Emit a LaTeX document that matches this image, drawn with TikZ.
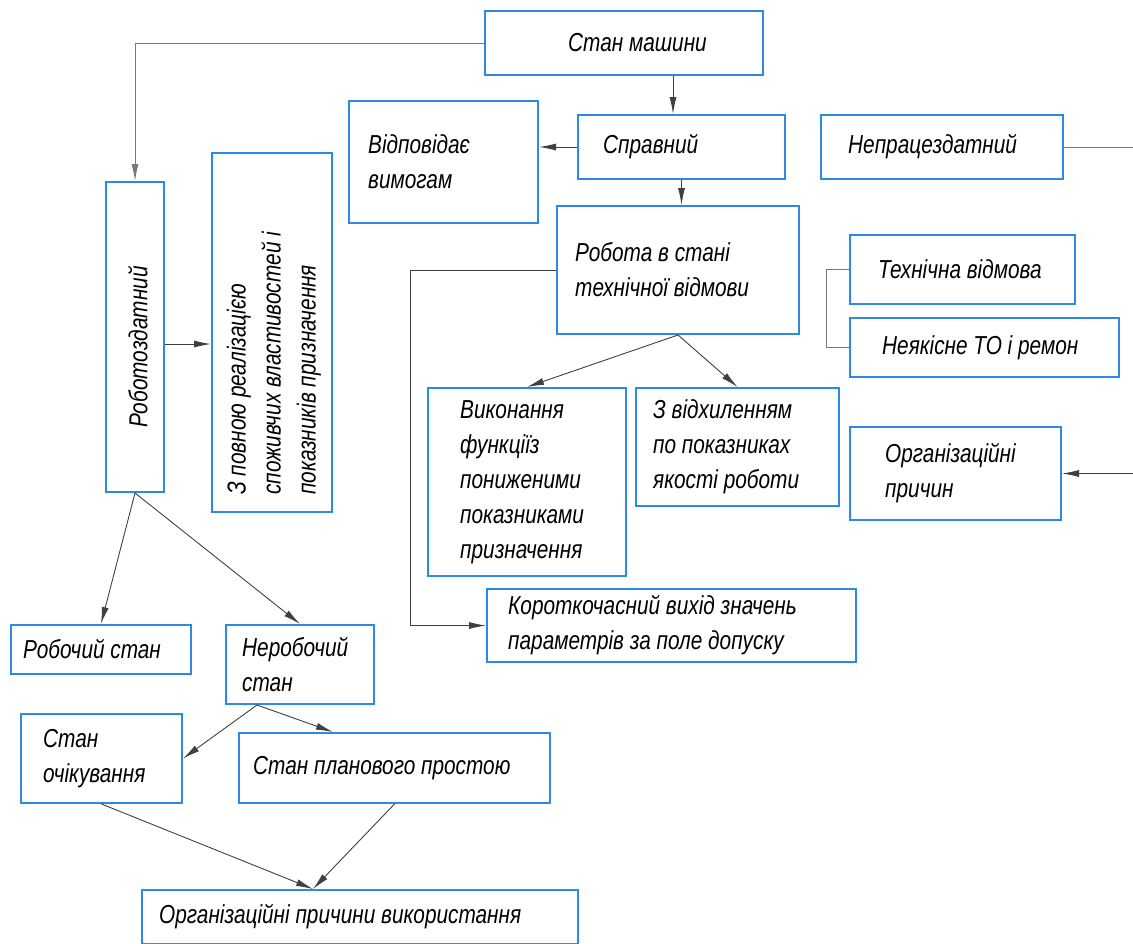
\documentclass[tikz,border=0pt]{standalone}
\usepackage{fontspec}
\setmainfont{Liberation Sans}[FakeStretch=0.8]
\usetikzlibrary{arrows.meta}
\definecolor{bxblue}{RGB}{44,138,226}
\definecolor{lngray}{RGB}{120,120,120}
\tikzset{
 box/.style={draw=bxblue, line width=2pt, inner sep=0pt},
 txt/.style={font=\fontsize{26}{35}\selectfont\itshape, text=black, align=left, inner sep=0pt},
 tip/.style={-{Latex[length=17pt,width=7pt]}},
 conn/.style={draw=black!75, line width=0.9pt, tip},
 gconn/.style={draw=lngray, line width=0.9pt},
}
\newcommand\mkbox[7]{%
 \node[box, minimum width={(#4-#2)*1pt}, minimum height={(#5-#3)*1pt}] (#1) at ({(#2+#4)/2},{(#3+#5)/2}) {};
 \node[txt, anchor=west] (#1-t) at ({#2+#6},{(#3+#5)/2}) {#7};
}
\begin{document}
\begin{tikzpicture}[x=1pt,y=-1pt]
\useasboundingbox (0,0) rectangle (1133,943);
\mkbox{m}{485}{11}{763}{75}{83}{Стан машини}
\mkbox{v}{349}{101}{538}{223}{19}{Відповідає\\вимогам}
\mkbox{s}{578}{115}{785}{179}{25}{Справний}
\mkbox{n}{821}{115}{1063}{179}{27}{Непрацездатний}
\mkbox{r}{557}{206}{799}{334}{18}{Робота в стані\\технічної відмови}
\mkbox{tv}{850}{235}{1075}{304}{28}{Технічна відмова}
\mkbox{nq}{850}{318}{1119}{377}{32}{Неякісне ТО і ремон}
\mkbox{vp}{428}{388}{626}{576}{32}{Виконання\\функціїз\\пониженими\\показниками\\призначення}
\mkbox{zv}{636}{388}{839}{506}{17}{З відхиленням\\по показниках\\якості роботи}
\mkbox{oc}{850}{427}{1061}{520}{35}{Організаційні\\причин}
\mkbox{k}{487}{589}{856}{662}{21}{Короткочасний вихід значень\\параметрів за поле допуску}
\mkbox{ws}{11}{625}{191}{674}{12}{Робочий стан}
\mkbox{ns}{226}{625}{374}{704}{16}{Неробочий\\стан}
\mkbox{so}{21}{714}{182}{803}{22}{Стан\\очікування}
\mkbox{sp}{239}{733}{550}{803}{14}{Стан планового простою}
\mkbox{op}{142}{890}{578}{944}{17}{Організаційні причини використання}
% vertical boxes
\node[box, minimum width=58pt, minimum height=310pt] (rob) at (135,337) {};
\node[txt, rotate=90] (rob-t) at (138,347) {Роботоздатний};
\node[box, minimum width=120pt, minimum height=359pt] (pr) at (272,332.5) {};
\node[txt, rotate=90, anchor=west] (pr-t) at (274,495) {З повною реалізацією\\споживчих властивостей і\\показників призначення};
% connectors
\draw[gconn, tip] (m.west) -| (rob.north);
\draw[conn] ([xshift=49pt]m.south) -- ([xshift=-8.5pt]s.north);
\draw[conn] (s.west) -- (s.west -| v.east);
\draw[conn] (s.south) -- (s.south |- r.north);
\draw[conn] (r.west) -| ([xshift=-76pt]k.west) -- (k.west);
\draw[conn] (r.south) -- (vp.north);
\draw[conn] (r.south) -- (zv.north);
\draw[conn] ([yshift=-7pt]rob.east) -- ([yshift=-11.5pt]pr.west);
\draw[conn] (rob.south) -- (ws.north);
\draw[conn] (rob.south) -- (ns.north);
\draw[conn] ([xshift=-43pt]ns.south) -- (so.east);
\draw[conn] ([xshift=-43pt]ns.south) -- ([xshift=-61.5pt]sp.north);
\draw[conn] (so.south) -- ([xshift=-47pt]op.north);
\draw[conn] (sp.south) -- ([xshift=-47pt]op.north);
\draw[gconn] (tv.west) -- ++(-23,0) |- (nq.west);
\coordinate (nE) at (1133,147);
\draw[gconn] (n.east) -- (nE);
\coordinate (oE) at (1133,473.5);
\draw[conn] (oE) -- (oc.east);
\end{tikzpicture}
\end{document}
